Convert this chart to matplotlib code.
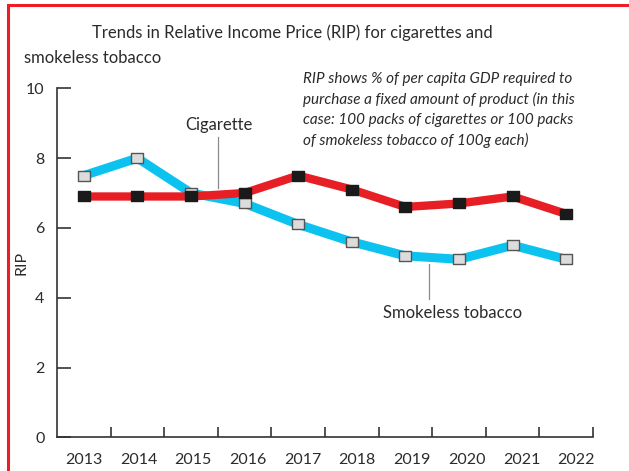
import matplotlib
matplotlib.use('Agg')
import matplotlib.pyplot as plt
import matplotlib.transforms as mtransforms
from matplotlib.patches import Rectangle
from matplotlib.path import Path

years = [2013, 2014, 2015, 2016, 2017, 2018, 2019, 2020, 2021, 2022]
cigarette = [6.9, 6.9, 6.9, 7.0, 7.5, 7.1, 6.6, 6.7, 6.9, 6.4]
smokeless = [7.5, 8.0, 7.0, 6.7, 6.1, 5.6, 5.2, 5.1, 5.5, 5.1]
y_ticks = [0, 2, 4, 6, 8, 10]

plt.rcParams['font.family'] = ['Lato', 'DejaVu Sans']
text_color = '#2b2b2b'

# wide flat box marker
box = Path([(-1, -0.72), (1, -0.72), (1, 0.72), (-1, 0.72), (-1, -0.72)],
           [Path.MOVETO, Path.LINETO, Path.LINETO, Path.LINETO, Path.CLOSEPOLY])

fig = plt.figure(figsize=(6.29, 4.71), dpi=100)
ax = fig.add_axes([57 / 629, 1 - 437.3 / 471, 536 / 629, 349 / 471])

ax.plot(years, smokeless, color='#0cc3f0', lw=6.5, solid_joinstyle='miter', zorder=2)
ax.plot(years, cigarette, color='#e81e25', lw=6, solid_joinstyle='miter', zorder=3)
ax.plot(years, smokeless, ls='none', marker=box, ms=9.2, mfc='#dcdcdc', mec='#555555', mew=1, zorder=4)
ax.plot(years, cigarette, ls='none', marker=box, ms=9.2, mfc='#1a1a1a', mec='#1a1a1a', mew=1, zorder=5)

ax.set_xlim(2012.5, 2022.5)
ax.set_ylim(0, 10)

for s in ['top', 'right']:
    ax.spines[s].set_visible(False)
for s in ['left', 'bottom']:
    ax.spines[s].set_color('#333333')
    ax.spines[s].set_linewidth(1.2)

ax.set_yticks(y_ticks)
ax.set_yticklabels([str(t) for t in y_ticks])
ax.tick_params(axis='y', direction='in', length=10, width=1.2, color='#333333',
               pad=9, labelsize=11.5, labelcolor=text_color)

ax.set_xticks([y + 0.5 for y in years])
ax.set_xticklabels([])
ax.set_xticks(years, minor=True)
ax.set_xticklabels([str(y) for y in years], minor=True)
ax.tick_params(axis='x', which='major', direction='in', length=7, width=1.2, color='#333333')
ax.tick_params(axis='x', which='minor', length=0, pad=11, labelsize=11.5, labelcolor=text_color)
# the year labels drift a little to the right of the data in the original
for i, lab in enumerate(ax.get_xticklabels(minor=True)):
    shift = mtransforms.ScaledTranslation(0.011 * i, 0, fig.dpi_scale_trans)
    lab.set_transform(lab.get_transform() + shift)

ax.set_ylabel('RIP', fontsize=11.5, color=text_color)
ax.yaxis.set_label_coords(-0.053, 0.5)

# leader lines and series labels
ax.plot([2015.5, 2015.5], [7.13, 8.6], color='#8a8a8a', lw=0.9)
ax.text(2015.53, 8.95, 'Cigarette', ha='center', va='center', fontsize=12, color=text_color)
ax.plot([2019.44, 2019.44], [3.95, 4.97], color='#8a8a8a', lw=0.9)
ax.text(2019.88, 3.56, 'Smokeless tobacco', ha='center', va='center', fontsize=12, color=text_color)

fig.text(92 / 629, 1 - 33 / 471, 'Trends in Relative Income Price (RIP) for cigarettes and',
         ha='left', va='center', fontsize=12, color=text_color)
fig.text(24 / 629, 1 - 58 / 471, 'smokeless tobacco',
         ha='left', va='center', fontsize=12, color=text_color)

note = ('RIP shows % of per capita GDP required to\n'
        'purchase a fixed amount of product (in this\n'
        'case: 100 packs of cigarettes or 100 packs\n'
        'of smokeless tobacco of 100g each)')
fig.text(303 / 629, 1 - 72 / 471, note, ha='left', va='top', fontsize=11,
         style='italic', color=text_color, linespacing=1.5)

# red frame, cropped at right and bottom
fig.patches.append(Rectangle((8 / 629, -0.1), 1.2, 1.1 - 5 / 471, transform=fig.transFigure,
                             fill=False, edgecolor='#ee1c25', lw=2.2))

fig.savefig('out.png', dpi=100, facecolor='white')
